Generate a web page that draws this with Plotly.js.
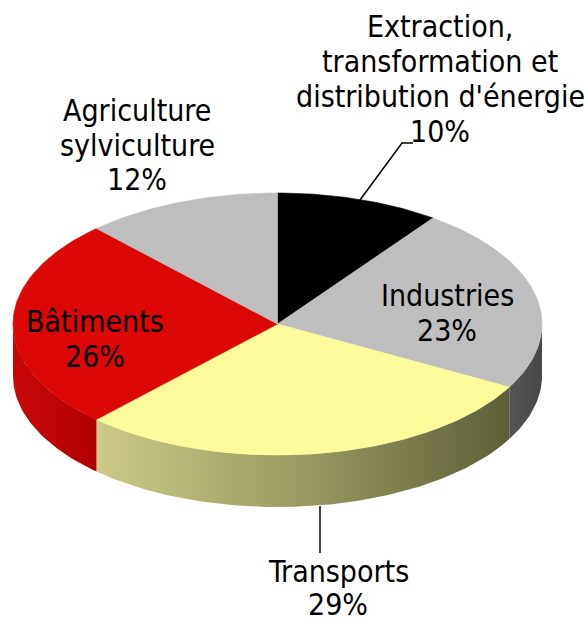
<!DOCTYPE html>
<html>
<head>
<meta charset="utf-8">
<script src="https://cdn.plot.ly/plotly-3.0.1.min.js"></script>
<style>html,body{margin:0;padding:0;background:#fff;}#chart{width:588px;height:625px;}</style>
</head>
<body>
<div id="chart"></div>
<script>
// ---- data ----
const sectors = ["Extraction, transformation et distribution d'énergie", "Industries", "Transports", "Bâtiments", "Agriculture sylviculture"];
const shares = [10, 23, 29, 26, 12];
const labelLines = [
  ["Extraction,", "transformation et", "distribution d'énergie", "10%"],
  ["Industries", "23%"],
  ["Transports", "29%"],
  ["Bâtiments", "26%"],
  ["Agriculture", "sylviculture", "12%"]
];
const topColors = ["#000000", "#bebebe", "#fbfb9b", "#dc0805", "#bebebe"];
const sideScales = [
  [[0, "#1a1a1a"], [1, "#000000"]],
  [[0, "#555555"], [1, "#474747"]],
  [[0, "#cbcb86"], [0.5, "#9a9a60"], [1, "#5e5e3a"]],
  [[0, "#c80808"], [1, "#b20000"]],
  [[0, "#9a9a9a"], [1, "#8a8a8a"]]
];

// ---- geometry (pie ellipse in pixel-like axis units) ----
const cx = 277.5, cy = 324, rx = 264.5, ry = 131, depth = 52;
function P(deg, dy) {
  const t = deg * Math.PI / 180;
  return [cx + rx * Math.sin(t), cy - ry * Math.cos(t) + (dy || 0)];
}

const total = shares.reduce((a, b) => a + b, 0);
const traces = [];
const tops = [];
let acc = 0;
shares.forEach((v, i) => {
  const a0 = acc / total * 360;
  acc += v;
  const a1 = acc / total * 360;
  // top face
  const xs = [cx], ys = [cy];
  const n = Math.max(4, Math.ceil(a1 - a0));
  for (let k = 0; k <= n; k++) {
    const p = P(a0 + (a1 - a0) * k / n);
    xs.push(p[0]); ys.push(p[1]);
  }
  xs.push(cx); ys.push(cy);
  tops.push({
    type: "scatter", mode: "lines", x: xs, y: ys, fill: "toself",
    fillcolor: topColors[i], line: {width: 0.6, color: topColors[i]},
    hoverinfo: "skip", showlegend: false
  });
  // side face (visible front half: 90..270)
  const s0 = Math.max(a0, 90), s1 = Math.min(a1, 270);
  if (s1 > s0) {
    const sx = [], sy = [];
    const m = Math.max(4, Math.ceil(s1 - s0));
    for (let k = 0; k <= m; k++) {
      const p = P(s0 + (s1 - s0) * k / m);
      sx.push(p[0]); sy.push(p[1]);
    }
    for (let k = m; k >= 0; k--) {
      const p = P(s0 + (s1 - s0) * k / m, depth);
      sx.push(p[0]); sy.push(p[1]);
    }
    sx.push(sx[0]); sy.push(sy[0]);
    traces.push({
      type: "scatter", mode: "lines", x: sx, y: sy, fill: "toself",
      fillgradient: {type: "horizontal", colorscale: sideScales[i]},
      line: {width: 0}, hoverinfo: "skip", showlegend: false
    });
  }
});

const font = {family: "DejaVu Sans Condensed, DejaVu Sans, sans-serif", size: 30, color: "#000"};
const lineGaps = [34.7, 34.7, 33, 34.7, 34.7];
const labelCenters = [[440, 79], [447, 313], [338, 588], [95, 339], [137, 145]];
const annotations = [];
labelLines.forEach((lines, i) => {
  lines.forEach((t, k) => {
    annotations.push({
      x: labelCenters[i][0], y: labelCenters[i][1] + (k - (lines.length - 1) / 2) * lineGaps[i],
      xref: "x", yref: "y", text: t, showarrow: false, font: font,
      xanchor: "center", yanchor: "middle"
    });
  });
});

const layout = {
  width: 588, height: 625,
  margin: {l: 0, r: 0, t: 0, b: 0},
  paper_bgcolor: "#ffffff", plot_bgcolor: "#ffffff",
  xaxis: {range: [0, 588], visible: false, fixedrange: true},
  yaxis: {range: [625, 0], visible: false, fixedrange: true},
  showlegend: false,
  annotations: annotations,
  shapes: [
    {type: "path", path: "M 413 143 L 402 143 L 360 200", xref: "x", yref: "y", line: {color: "#000", width: 1.5}},
    {type: "line", x0: 320, x1: 320, y0: 506, y1: 553, xref: "x", yref: "y", line: {color: "#000", width: 1.5}}
  ]
};

Plotly.newPlot("chart", traces.concat(tops), layout, {displayModeBar: false, staticPlot: true});
</script>
</body>
</html>
